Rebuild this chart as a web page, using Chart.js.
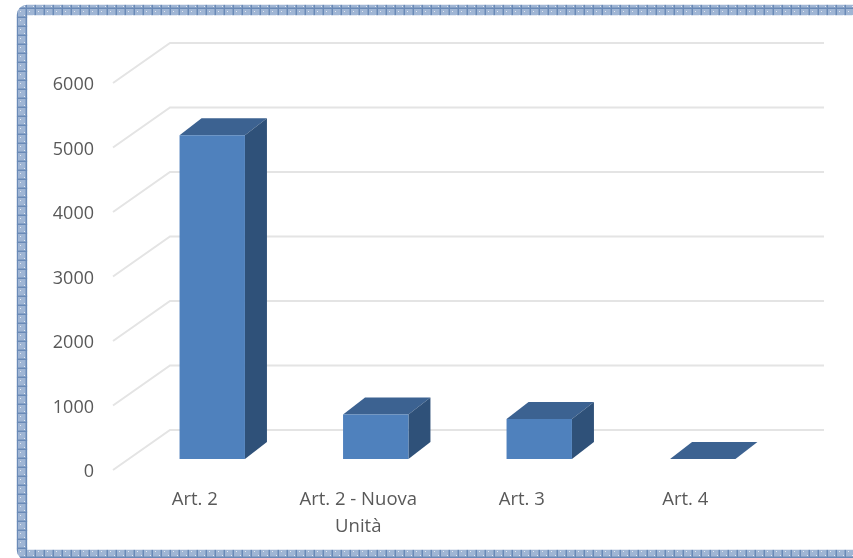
<!DOCTYPE html>
<html>
<head>
<meta charset="utf-8">
<style>
  html, body { margin: 0; padding: 0; background: #fff; }
  #wrap { width: 853px; height: 558px; position: relative; overflow: hidden; }
</style>
<script src="https://cdn.jsdelivr.net/npm/chart.js@4/dist/chart.umd.min.js"></script>
</head>
<body>
<div id="wrap"><canvas id="chart"></canvas></div>
<script>
const categories = [['Art. 2'], ['Art. 2 - Nuova', 'Unità'], ['Art. 3'], ['Art. 4']];
const values = [5020, 690, 620, 0];
const yTicks = [0, 1000, 2000, 3000, 4000, 5000, 6000];

// fake 3D: how far the back wall and the bars sit from the front plane
const WALL_DX = 57, WALL_DY = -40;
const BAR_DX = 17.5, BAR_DY = -11;
const DEPTH_DX = 22, DEPTH_DY = -17;

function borderPattern(ctx) {
  const c = document.createElement('canvas');
  c.width = 9; c.height = 9;
  const p = c.getContext('2d');
  p.fillStyle = '#9fb5d4';
  p.fillRect(0, 0, 9, 9);
  p.fillStyle = '#e4eaf3';
  p.fillRect(2, 2, 1, 1); p.fillRect(6, 6, 1, 1);
  p.fillStyle = '#86a1c6';
  p.fillRect(7, 0, 1, 9); p.fillRect(0, 7, 9, 1);
  p.fillStyle = '#6a8ab7';
  p.fillRect(8, 0, 1, 9); p.fillRect(0, 8, 9, 1);
  return ctx.createPattern(c, 'repeat');
}

const wallPlugin = {
  id: 'wall',
  beforeDatasetsDraw(chart) {
    const { ctx, chartArea: a, scales: { y } } = chart;
    ctx.save();
    ctx.strokeStyle = '#e4e4e4';
    ctx.lineWidth = 2;
    yTicks.forEach(v => {
      const py = y.getPixelForValue(v);
      ctx.beginPath();
      ctx.moveTo(a.left, py);
      ctx.lineTo(a.left + WALL_DX, py + WALL_DY);
      ctx.lineTo(a.right + WALL_DX, py + WALL_DY);
      ctx.stroke();
    });
    ctx.restore();
  },
  afterDraw(chart) {
    const { ctx } = chart;
    ctx.save();
    ctx.strokeStyle = borderPattern(ctx);
    ctx.lineWidth = 10.5;
    ctx.beginPath();
    ctx.roundRect(22, 10, 860, 545, 5);
    ctx.stroke();
    ctx.restore();
  }
};

const depthPlugin = {
  id: 'depth',
  beforeDatasetDraw(chart) {
    const { ctx } = chart;
    ctx.save();
    ctx.translate(BAR_DX, BAR_DY);
    chart.getDatasetMeta(0).data.forEach(bar => {
      const l = bar.x - bar.width / 2, r = bar.x + bar.width / 2;
      // top face
      ctx.fillStyle = '#3c6291';
      ctx.beginPath();
      ctx.moveTo(l, bar.y);
      ctx.lineTo(l + DEPTH_DX, bar.y + DEPTH_DY);
      ctx.lineTo(r + DEPTH_DX, bar.y + DEPTH_DY);
      ctx.lineTo(r, bar.y);
      ctx.closePath();
      ctx.fill();
      // side face, nothing to show for a zero height bar
      if (bar.base - bar.y < 1) return;
      ctx.fillStyle = '#2f5179';
      ctx.beginPath();
      ctx.moveTo(r, bar.y);
      ctx.lineTo(r + DEPTH_DX, bar.y + DEPTH_DY);
      ctx.lineTo(r + DEPTH_DX, bar.base + DEPTH_DY);
      ctx.lineTo(r, bar.base);
      ctx.closePath();
      ctx.fill();
    });
  },
  afterDatasetDraw(chart) {
    chart.ctx.restore();
  }
};

new Chart(document.getElementById('chart'), {
  type: 'bar',
  data: {
    labels: categories,
    datasets: [{
      data: values,
      backgroundColor: '#4f81bd',
      barPercentage: 0.4,
      categoryPercentage: 1
    }]
  },
  options: {
    responsive: true,
    maintainAspectRatio: false,
    animation: false,
    layout: { padding: { left: 0, right: 86, top: 83, bottom: 0 } },
    plugins: { legend: { display: false }, tooltip: { enabled: false } },
    scales: {
      x: {
        grid: { display: false, drawTicks: false },
        border: { display: false },
        afterFit: s => { s.height = 88; },
        ticks: {
          color: '#595959',
          font: { family: '"Open Sans"', size: 18.5, lineHeight: 1.46 },
          autoSkip: false, maxRotation: 0, padding: 16
        }
      },
      y: {
        min: 0, max: 6000,
        grid: { display: false, drawTicks: false },
        border: { display: false },
        afterFit: s => { s.width = 113; },
        afterBuildTicks: s => { s.ticks = yTicks.map(value => ({ value })); },
        ticks: {
          color: '#595959',
          font: { family: '"Open Sans"', size: 18 },
          padding: 19,
          labelOffset: 2,
          callback: v => String(v)
        }
      }
    }
  },
  plugins: [wallPlugin, depthPlugin]
});
</script>
</body>
</html>
